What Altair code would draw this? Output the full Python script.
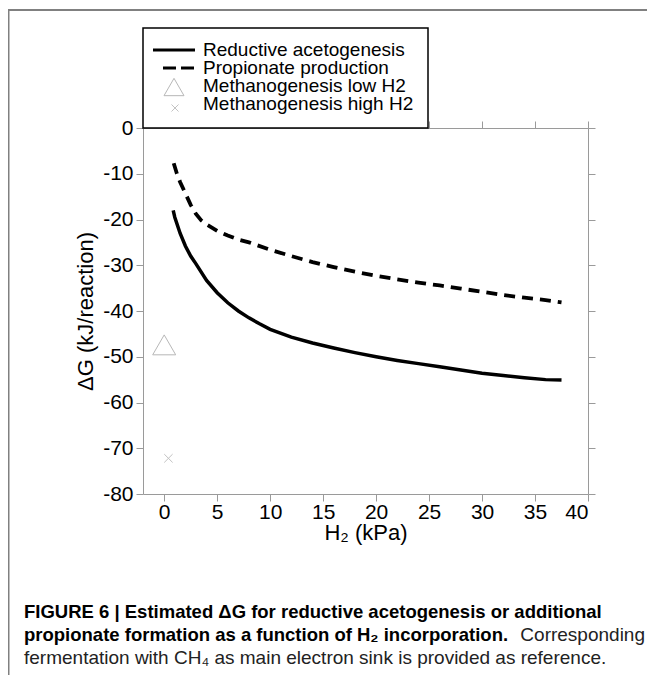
import altair as alt
import pandas as pd

# ---- data ----
h2_acet = [0.85, 1.0, 1.5, 2, 2.5, 3, 4, 5, 6, 7, 8, 9, 10, 12, 14, 16, 18, 20, 22, 24, 26, 28, 30, 32, 34, 36, 37.5]
dg_acet = [-18, -19.5, -23, -25.8, -28, -29.7, -33.3, -36, -38.2, -40, -41.5, -42.8, -44, -45.7, -47, -48.1, -49.1, -50, -50.8, -51.5, -52.2, -52.9, -53.6, -54.1, -54.6, -55, -55.1]

h2_prop = [0.9, 1.2, 1.5, 2, 2.5, 3, 3.5, 4, 5, 6, 7, 8, 10, 12, 14, 16, 18, 20, 22, 24, 26, 28, 30, 32, 34, 36, 37.5]
dg_prop = [-7.7, -10, -11.8, -14.3, -16.8, -18.8, -20.2, -21.1, -22.5, -23.5, -24.4, -25, -26.6, -28, -29.3, -30.4, -31.4, -32.3, -33.1, -33.8, -34.4, -35.1, -35.8, -36.5, -37.1, -37.6, -38.1]

meth_low = {"h2": [0.0], "dg": [-47.4]}
meth_high = {"h2": [0.4], "dg": [-72.2]}

x_ticks = [0, 5, 10, 15, 20, 25, 30, 35, 40]
y_ticks = [-80, -70, -60, -50, -40, -30, -20, -10, 0]

legend_labels = ["Reductive acetogenesis", "Propionate production",
                 "Methanogenesis low H2", "Methanogenesis high H2"]

caption_1 = "FIGURE 6 | Estimated \u0394G for reductive acetogenesis or additional"
caption_2b = "propionate formation as a function of H\u2082 incorporation."
caption_2n = "Corresponding"
caption_3 = "fermentation with CH\u2084 as main electron sink is provided as reference."

acet = pd.DataFrame({"h2": h2_acet, "dg": dg_acet})
prop = pd.DataFrame({"h2": h2_prop, "dg": dg_prop})
low = pd.DataFrame(meth_low)
high = pd.DataFrame(meth_high)
one = pd.DataFrame({"k": [0]})

GREY = "#9a9a9a"
FONT = "Liberation Sans"
XS = alt.Scale(domain=[-2, 40], nice=False, zero=False)
YS = alt.Scale(domain=[-80, 0], nice=False, zero=False)

x_main = alt.X("h2:Q", scale=XS, axis=alt.Axis(
    values=x_ticks, title="H\u2082 (kPa)", labelExpr="'' + datum.value",
    labelPadding=0, titlePadding=0))
y_main = alt.Y("dg:Q", scale=YS, axis=alt.Axis(
    values=y_ticks, title="\u0394G (kJ/reaction)", labelExpr="'' + datum.value",
    labelPadding=3, titlePadding=5))

x_noax = alt.X("h2:Q", scale=XS, axis=None)
y_noax = alt.Y("dg:Q", scale=YS, axis=None)

solid = alt.Chart(acet).mark_line(color="black", strokeWidth=3.5).encode(x=x_main, y=y_main)
dashed = alt.Chart(prop).mark_line(color="black", strokeWidth=3.8, strokeDash=[11, 7]).encode(x=x_noax, y=y_noax)
tri = alt.Chart(low).mark_point(shape="triangle-up", size=529, filled=False, color=GREY, strokeWidth=1).encode(x=x_noax, y=y_noax)
cross = alt.Chart(high).mark_point(shape="M-1,-1L1,1M-1,1L1,-1", size=70, filled=False, color="#aaaaaa", strokeWidth=1).encode(
    x=alt.X("h2:Q", scale=XS, axis=alt.Axis(orient="top", values=x_ticks, labels=False, title=None)),
    y=alt.Y("dg:Q", scale=YS, axis=alt.Axis(orient="right", values=y_ticks, labels=False, title=None)))

# ---- decorations: outer frame, legend box, caption ----
frame_left = alt.Chart(one).mark_rule(color="#808080", strokeWidth=2).encode(
    x=alt.value(-134.5), y=alt.value(-118), y2=alt.value(550))
frame_top = alt.Chart(one).mark_rule(color="#808080", strokeWidth=2).encode(
    x=alt.value(-135), x2=alt.value(520), y=alt.value(-118))

leg_box = alt.Chart(one).mark_rect(fill="white", stroke="black", strokeWidth=1.5).encode(
    x=alt.value(0), x2=alt.value(285), y=alt.value(-100), y2=alt.value(0))
leg_l1 = alt.Chart(one).mark_rule(color="black", strokeWidth=3).encode(
    x=alt.value(10), x2=alt.value(52), y=alt.value(-78))
leg_l2 = alt.Chart(one).mark_rule(color="black", strokeWidth=3, strokeDash=[13, 5]).encode(
    x=alt.value(20), x2=alt.value(52), y=alt.value(-60))
leg_tri = alt.Chart(one).mark_point(shape="triangle-up", size=400, filled=False, color=GREY, strokeWidth=1).encode(
    x=alt.value(31), y=alt.value(-41))
leg_x = alt.Chart(one).mark_point(shape="M-1,-1L1,1M-1,1L1,-1", size=49, filled=False, color="#aaaaaa", strokeWidth=1).encode(
    x=alt.value(32), y=alt.value(-20))

leg_texts = []
for i, lab in enumerate(legend_labels):
    leg_texts.append(alt.Chart(one).mark_text(
        text=lab, align="left", baseline="middle", font=FONT, fontSize=19, color="black").encode(
        x=alt.value(60), y=alt.value(-78 + 18 * i)))

cap_font = FONT
cap1 = alt.Chart(one).mark_text(text=caption_1, align="left", baseline="alphabetic", font=cap_font,
                                fontSize=18.5, fontWeight="bold", color="black").encode(x=alt.value(-119), y=alt.value(490))
cap2b = alt.Chart(one).mark_text(text=caption_2b, align="left", baseline="alphabetic", font=cap_font,
                                 fontSize=18.5, fontWeight="bold", color="black").encode(x=alt.value(-119), y=alt.value(513))
cap2n = alt.Chart(one).mark_text(text=caption_2n, align="right", baseline="alphabetic", font=cap_font,
                                 fontSize=19, color="#222222").encode(x=alt.value(502), y=alt.value(513))
cap3 = alt.Chart(one).mark_text(text=caption_3, align="left", baseline="alphabetic", font=cap_font,
                                fontSize=19, color="#222222").encode(x=alt.value(-119), y=alt.value(536))

chart = alt.layer(
    solid, dashed, tri, cross,
    frame_left, frame_top,
    leg_box, leg_l1, leg_l2, leg_tri, leg_x, *leg_texts,
    cap1, cap2b, cap2n, cap3,
).resolve_axis(x="independent", y="independent").properties(
    width=445, height=366,
    autosize=alt.AutoSizeParams(type="none"),
    padding={"left": 135, "top": 120, "right": 59, "bottom": 181},
).configure_view(stroke=None).configure_axis(
    domainColor=GREY, tickColor=GREY, domainWidth=1, tickWidth=1, tickSize=7,
    grid=False, labelFont=FONT, labelFontSize=21, labelColor="black",
    titleFont=FONT, titleFontSize=22, titleFontWeight="normal", titleColor="black",
)

chart.save("out.html", embed_options={"renderer": "svg", "actions": False})
